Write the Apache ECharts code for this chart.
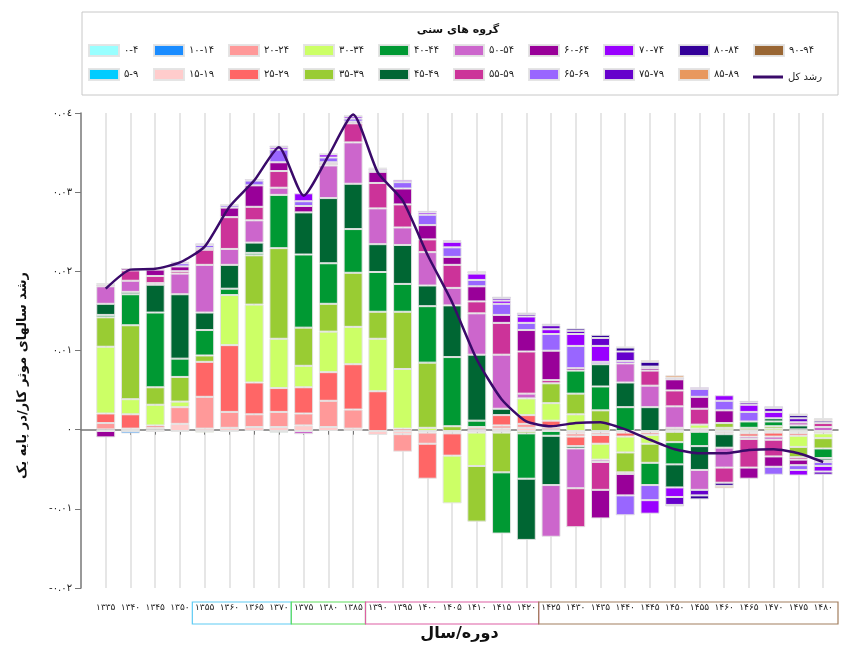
<!DOCTYPE html>
<html>
<head>
<meta charset="utf-8">
<script src="https://cdn.jsdelivr.net/npm/echarts@6/dist/echarts.min.js"></script>
<style>html,body{margin:0;padding:0;background:#fff}#main{width:843px;height:647px}</style>
</head>
<body>
<div id="main"></div>
<script>
// ---- data ----
const years = [1335,1340,1345,1350,1355,1360,1365,1370,1375,1380,1385,1390,1395,1400,1405,1410,1415,1420,1425,1430,1435,1440,1445,1450,1455,1460,1465,1470,1475,1480];
const groupNames = ['۰-۴','۵-۹','۱۰-۱۴','۱۵-۱۹','۲۰-۲۴','۲۵-۲۹','۳۰-۳۴','۳۵-۳۹','۴۰-۴۴','۴۵-۴۹','۵۰-۵۴','۵۵-۵۹','۶۰-۶۴','۶۵-۶۹','۷۰-۷۴','۷۵-۷۹','۸۰-۸۴','۸۵-۸۹','۹۰-۹۴'];
const lineName = 'رشد کل';
const groupColors = ['#99FFFF','#00CCFF','#1A8CFF','#FFCCCC','#FF9999','#FF6666','#CCFF66','#99CC33','#009933','#006633','#CC66CC','#CC3399','#990099','#9966FF','#9900FF','#6600CC','#330099','#E8985E','#996633'];

const g0_4   = [0,0,0,0,0,0,0,0,0,0,0,0,0,0,0,0,0,0,0,0,0,0,0,0,0,0,0,0,0,0];
const g5_9   = [0,0,0,0,0,0,0,0,0,0,0,0,0,0,0,0,0,0,0,0,0,0,0,0,0,0,0,0,0,0];
const g10_14 = [0,-0.0003,-0.0001,0,0,0,0,0,0,0,0,0,0,0,0,0,0,0,0,0,0,0,0,0,0,0,0,0,0,0];
const g15_19 = [0.0002,0.0001,0.0002,0.0009,0.0003,0.0004,0.0005,0.0005,0.0007,0.0005,0.0003,-0.0005,-0.0004,-0.0002,-0.0002,0.0002,0.0003,0.0004,0.0002,-0.0003,-0.0002,0,0,0,0,0.0001,-0.0002,-0.0001,-0.0002,-0.0001];
const g20_24 = [0.0008,0.0002,0.0002,0.0021,0.0040,0.0020,0.0016,0.0019,0.0015,0.0033,0.0024,0,-0.0022,-0.0014,-0.0001,0.0003,0.0004,0.0005,0.0003,-0.0004,-0.0003,-0.0002,-0.0002,0.0002,0.0001,-0.0001,-0.0001,-0.0001,-0.0001,0];
const g25_29 = [0.0012,0.0018,0.0003,-0.0001,0.0044,0.0084,0.0040,0.0030,0.0033,0.0036,0.0057,0.0050,0.0003,-0.0044,-0.0028,-0.0002,0.0013,0.0011,0.0008,-0.0012,-0.0011,-0.0005,-0.0003,0.0002,0.0002,-0.0002,-0.0004,-0.0005,-0.0003,-0.0002];
const g30_34 = [0.0084,0.0019,0.0026,0.0007,-0.0002,0.0063,0.0098,0.0062,0.0027,0.0051,0.0047,0.0066,0.0075,0.0004,-0.0060,-0.0042,-0.0002,0.0021,0.0022,0.0021,-0.0020,-0.0020,-0.0011,-0.0001,0.0005,0.0003,0.0001,0.0003,-0.0014,-0.0006];
const g35_39 = [0.0037,0.0093,0.0022,0.0031,0.0008,-0.0001,0.0062,0.0114,0.0048,0.0035,0.0068,0.0034,0.0072,0.0082,0.0006,-0.0070,-0.0050,-0.0003,0.0025,0.0026,0.0026,-0.0025,-0.0024,-0.0013,-0.0001,0.0006,0.0003,0.0003,-0.0013,-0.0013];
const g40_44 = [0.0003,0.0039,0.0094,0.0023,0.0032,0.0008,0.0003,0.0067,0.0092,0.0051,0.0055,0.0050,0.0035,0.0071,0.0087,0.0008,-0.0077,-0.0057,-0.0006,0.0029,0.0030,0.0030,-0.0028,-0.0028,-0.0018,-0.0001,0.0008,0.0006,0.0002,-0.0012];
const g45_49 = [0.0014,0.0003,0.0035,0.0081,0.0022,0.0030,0.0013,-0.0002,0.0053,0.0082,0.0057,0.0035,0.0049,0.0026,0.0065,0.0083,0.0008,-0.0077,-0.0062,-0.0003,0.0028,0.0031,0.0030,-0.0029,-0.0030,-0.0017,0,0.0004,0.0005,-0.0003];
const g50_54 = [0.0022,0.0014,0.0002,0.0026,0.0060,0.0020,0.0028,0.0009,-0.0004,0.0041,0.0052,0.0045,0.0022,0.0042,0.0022,0.0052,0.0068,0.0006,-0.0065,-0.0050,-0.0003,0.0024,0.0027,0.0027,-0.0025,-0.0025,-0.0003,-0.0004,0.0004,0.0005];
const g55_59 = [0.0002,0.0013,0.0009,0.0003,0.0019,0.0040,0.0017,0.0021,0,0.0002,0.0024,0.0032,0.0029,0.0016,0.0029,0.0015,0.0040,0.0053,0.0004,-0.0049,-0.0035,-0.0002,0.0019,0.0020,0.0020,-0.0019,-0.0036,-0.0021,-0.0003,0.0005];
const g60_64 = [-0.0008,0.0003,0.0008,0.0006,0.0002,0.0012,0.0027,0.0011,0.0008,0.0002,0.0002,0.0014,0.0020,0.0018,0.0010,0.0019,0.0010,0.0027,0.0037,0.0003,-0.0036,-0.0027,0.0003,0.0014,0.0015,0.0016,-0.0014,-0.0013,-0.0007,-0.0002];
const g65_69 = [0.0001,0,0.0001,0.0004,0.0004,0.0003,0.0006,0.0016,0.0006,0.0006,0.0004,0.0002,0.0008,0.0013,0.0012,0.0008,0.0014,0.0009,0.0021,0.0028,0.0003,-0.0025,-0.0019,0.0002,0.0010,0.0012,0.0012,-0.0010,-0.0006,-0.0005];
const g70_74 = [0.0001,0,0.0001,0.0002,0.0002,0.0001,0.0002,0.0003,0.0010,0.0004,0.0003,0.0002,0.0003,0.0003,0.0007,0.0008,0.0004,0.0008,0.0006,0.0015,0.0020,0.0003,-0.0017,-0.0012,0.0002,0.0007,0.0009,0.0008,-0.0007,-0.0007];
const g75_79 = [0,0,0,0,0,0,0,0.0002,0,0.0001,0.0001,0.0001,0,0.0002,0.0002,0.0002,0.0003,0.0003,0.0005,0.0004,0.0010,0.0012,0.0002,-0.0010,-0.0007,0,0.0003,0.0005,0.0005,-0.0004];
const g80_84 = [0,0,0,0,0,0,0,0,0,0,0,0,0,0,0,0.0001,0.0002,0.0002,0.0002,0.0003,0.0004,0.0005,0.0006,-0.0002,-0.0005,-0.0004,0.0002,0.0002,0.0004,0.0003];
const g85_89 = [0,0,0,0,0,0,0,0,0,0,0,0,0,0,0,0,0,0,0,0,0,0.0001,0.0002,0.0003,0,-0.0003,0,0,0.0002,0.0002];
const g90_94 = [0,0,0,0,0,0,0,0,0,0,0,0,0,0,0,0,0,0,0,0,0,0,0,0,0,0,0,0,0,0.0001];
const totalGrowth = [0.0179,0.0203,0.0204,0.0212,0.0232,0.0282,0.0315,0.0357,0.0296,0.0346,0.0398,0.0325,0.0290,0.0222,0.0162,0.0090,0.0040,0.0012,0.0006,0.0010,0.0011,0.0002,-0.0011,-0.0023,-0.0028,-0.0028,-0.0024,-0.0023,-0.0028,-0.0039];

const groupValues = [g0_4,g5_9,g10_14,g15_19,g20_24,g25_29,g30_34,g35_39,g40_44,g45_49,g50_54,g55_59,g60_64,g65_69,g70_74,g75_79,g80_84,g85_89,g90_94];

// label bands under the x axis (year ranges)
const bandFrom   = [1352.5,1372.5,1387.5,1422.5];
const bandTo     = [1372.5,1387.5,1422.5,1483];
const bandColors = ['#5ECBF4','#5FDD5F','#DD5FA3','#A27E5E'];

// ---- helpers ----
const FONT = 'DejaVu Sans';
const faDigits = s => String(s).replace(/\d/g, d => '۰۱۲۳۴۵۶۷۸۹'[d]);
const arDigits = s => String(s).replace(/\d/g, d => '٠١٢٣٤٥٦٧٨٩'[d]);

// axis geometry (visible year axis)
const X_MIN = 1330, X_MAX = 1483, PLOT_L = 81, PLOT_R = 838;
const pxPerYear = (PLOT_R - PLOT_L) / (X_MAX - X_MIN);
const barGridLeft = PLOT_L + (years[0] - 2.5 - X_MIN) * pxPerYear;
const barGridRight = 843 - (PLOT_L + (years[years.length - 1] + 2.5 - X_MIN) * pxPerYear);

const series = groupNames.map((name, i) => ({
  name: name,
  type: 'bar',
  stack: 'total',
  xAxisIndex: 1, yAxisIndex: 1,
  barWidth: 19,
  itemStyle: { color: groupColors[i], borderColor: 'rgba(228,228,228,0.95)', borderWidth: 1 },
  emphasis: { disabled: true },
  data: groupValues[i].map(v => v === 0 ? null : v)
}));
series.push({
  name: lineName,
  type: 'line',
  xAxisIndex: 1, yAxisIndex: 1,
  z: 5,
  symbol: 'none',
  smooth: 0.2,
  lineStyle: { color: '#3a0a6a', width: 2.5 },
  itemStyle: { color: '#3a0a6a' },
  data: totalGrowth
});

// legends: 2 rows x 10 columns
const legendNames = groupNames.concat([lineName]);
const legends = legendNames.map((name, i) => {
  const row = i % 2, col = Math.floor(i / 2);
  const left = col === 0 ? 88 : 153 + (col - 1) * 75;
  const isLine = name === lineName;
  return {
    data: [name], left: left, top: (row === 0 ? 44 : 68) + (isLine ? 4 : 0),
    icon: 'rect',
    itemWidth: 30, itemHeight: isLine ? 3 : 11, padding: 0, itemGap: 0,
    textStyle: { fontFamily: FONT, fontSize: 10, color: '#222' }
  };
});

const option = {
  animation: false,
  backgroundColor: '#fff',
  textStyle: { fontFamily: FONT },
  legend: legends,
  grid: [
    { left: PLOT_L, right: 843 - PLOT_R, top: 113, bottom: 57 },
    { left: barGridLeft, right: barGridRight, top: 113, bottom: 57 }
  ],
  xAxis: [{
    type: 'value', gridIndex: 0, min: X_MIN, max: X_MAX, interval: 5,
    name: 'دوره/سال', nameLocation: 'middle', nameGap: 38,
    nameTextStyle: { fontFamily: FONT, fontSize: 16, fontWeight: 'bold', color: '#111' },
    axisLine: { show: true, lineStyle: { color: '#777', width: 1.5 } },
    axisTick: { show: true, length: 5, lineStyle: { color: '#777' }, customValues: years },
    axisLabel: { customValues: years, margin: 15, fontSize: 9, fontFamily: FONT, color: '#222',
      formatter: v => faDigits(v) },
    splitLine: { show: true, lineStyle: { color: '#dedede', width: 1.5 } }
  }, {
    type: 'category', gridIndex: 1, data: years, boundaryGap: true, show: false
  }],
  yAxis: [{
    type: 'value', gridIndex: 0, min: -0.02, max: 0.04, interval: 0.01,
    name: 'رشد سالهای موثر کار/در پایه یک', nameLocation: 'middle', nameGap: 52, nameRotate: 90,
    nameTextStyle: { fontFamily: FONT, fontSize: 13, fontWeight: 'bold', color: '#111', padding: [0, 50, 0, 0] },
    axisLine: { show: true, lineStyle: { color: '#777', width: 1.5 } },
    axisTick: { show: true, length: 6, lineStyle: { color: '#777' } },
    axisLabel: { fontSize: 10, fontFamily: FONT, color: '#222', margin: 9,
      formatter: v => Math.abs(v) < 1e-9 ? '٠' : arDigits(v.toFixed(2)) },
    splitLine: { show: false }
  }, {
    type: 'value', gridIndex: 1, min: -0.02, max: 0.04, interval: 0.01, show: false
  }],
  series: series
};

const chart = echarts.init(document.getElementById('main'), null, { renderer: 'canvas' });
chart.setOption(option);

// decorations: legend frame, legend title, label bands
const graphics = [
  { type: 'rect', shape: { x: 82, y: 12, width: 756, height: 83 }, style: { fill: 'none', stroke: '#c8c8c8', lineWidth: 1 }, silent: true },
  { type: 'text', x: 458, y: 30, style: { text: 'گروه های سنی', font: 'bold 11px "DejaVu Sans"', fill: '#111', textAlign: 'center', textVerticalAlign: 'middle' }, silent: true }
];
bandFrom.forEach((f, i) => {
  const x1 = chart.convertToPixel({ xAxisIndex: 0 }, f);
  const x2 = chart.convertToPixel({ xAxisIndex: 0 }, bandTo[i]);
  graphics.push({ type: 'rect', shape: { x: x1, y: 602, width: x2 - x1, height: 22 },
    style: { fill: 'none', stroke: bandColors[i], lineWidth: 1.2 }, silent: true });
});
chart.setOption({ graphic: graphics });
</script>
</body>
</html>
